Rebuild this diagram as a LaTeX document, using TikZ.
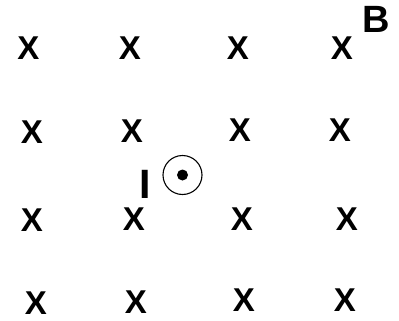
\documentclass[tikz,border=0pt]{standalone}
\usepackage{fontspec}
\setmainfont{Liberation Sans}
\begin{document}
\begin{tikzpicture}[x=1pt,y=-1pt,
  fieldx/.style={inner sep=0pt,font=\fontsize{33}{33}\selectfont\bfseries},
  lbl/.style={inner sep=0pt,font=\fontsize{38}{38}\selectfont\bfseries}]
\useasboundingbox (0,0) rectangle (399,321);
\node[fieldx] (x11) at (28.5,48.5) {X};
\node[fieldx] (x12) at (130,48) {X};
\node[fieldx] (x13) at (238,48) {X};
\node[fieldx] (x14) at (342,48) {X};
\node[fieldx] (x21) at (32,132) {X};
\node[fieldx] (x22) at (132,131) {X};
\node[fieldx] (x23) at (240,130) {X};
\node[fieldx] (x24) at (340,130) {X};
\node[fieldx] (x31) at (32,220) {X};
\node[fieldx] (x32) at (134,219) {X};
\node[fieldx] (x33) at (242,219) {X};
\node[fieldx] (x34) at (347,219) {X};
\node[fieldx] (x41) at (36,303) {X};
\node[fieldx] (x42) at (136,302) {X};
\node[fieldx] (x43) at (244,300) {X};
\node[fieldx] (x44) at (345,300) {X};
\node[lbl,anchor=base] (B) at (376,33) {B};
\node[lbl,anchor=base,font=\fontsize{41}{41}\selectfont\bfseries] (I) at (145.5,198) {I};
\draw[line width=1.1pt] (182.5,175) circle[radius=19.5];
\fill (182.5,175) circle[radius=5.5];
\end{tikzpicture}
\end{document}
